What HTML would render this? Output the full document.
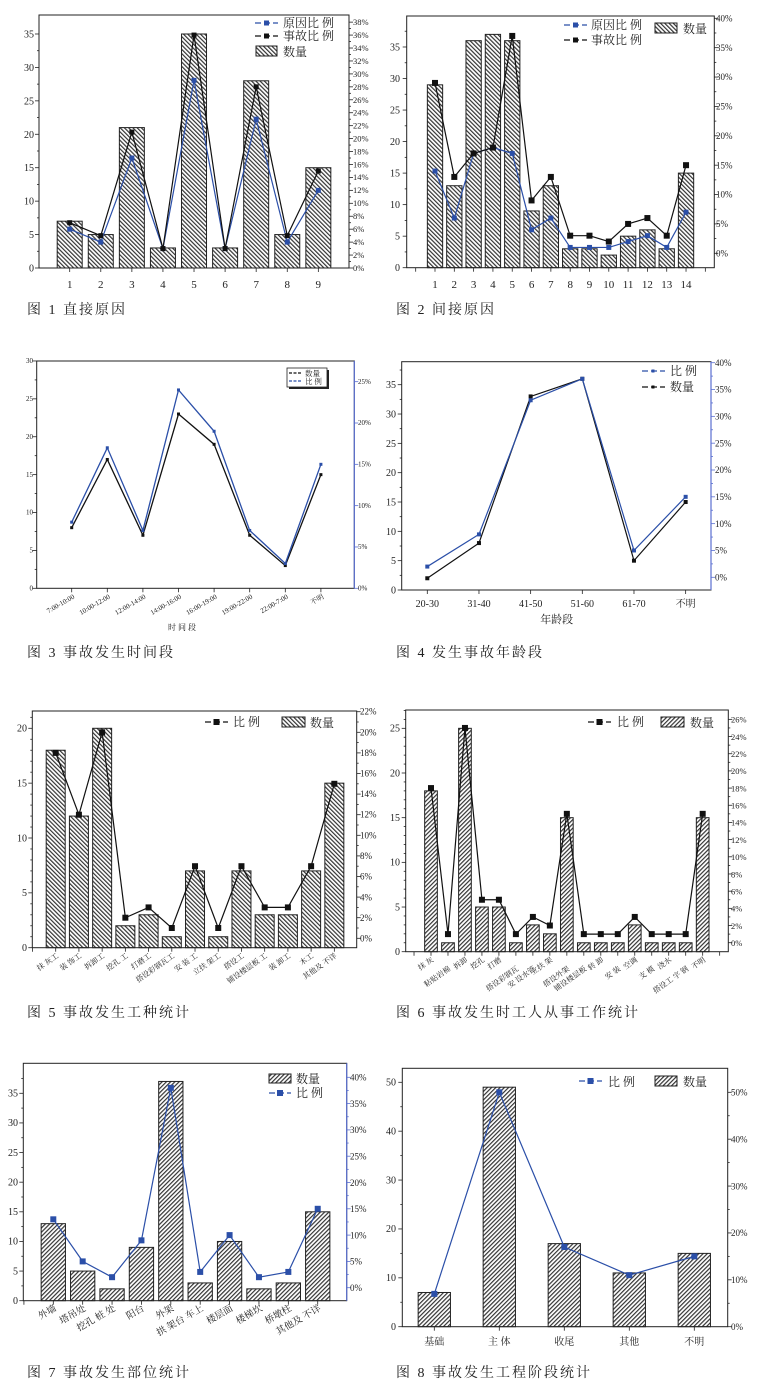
<!DOCTYPE html>
<html><head><meta charset="utf-8"><style>
html,body{margin:0;padding:0;background:#fff}
svg{display:block}
text{font-family:"Liberation Serif","Noto Serif CJK SC",serif;fill:#222}
.c{font-family:"Liberation Serif","Noto Serif CJK SC",serif;font-size:14px;letter-spacing:2px}
.t{font-size:10px}
.s{font-size:7px;fill:#555}
.k{font-size:7.5px}
.lg{font-size:12px}
</style></head><body>
<svg id="s" xmlns="http://www.w3.org/2000/svg" width="759" height="1384" viewBox="0 0 759 1384">
<defs>
<pattern id="hb" width="3" height="6" patternUnits="userSpaceOnUse" patternTransform="rotate(-45)"><rect width="3" height="6" fill="#fff"/><line x1="0.6" y1="0" x2="0.6" y2="6" stroke="#333" stroke-width="1.2"/></pattern>
<pattern id="hf" width="3" height="6" patternUnits="userSpaceOnUse" patternTransform="rotate(45)"><rect width="3" height="6" fill="#fff"/><line x1="0.6" y1="0" x2="0.6" y2="6" stroke="#333" stroke-width="1.2"/></pattern>
</defs>
<g id="g"></g>

<!-- Chart 1 -->
<g class="t" text-anchor="end">
<text x="34" y="271.5">0</text><text x="34" y="238">5</text><text x="34" y="204.6">10</text><text x="34" y="171.2">15</text><text x="34" y="137.8">20</text><text x="34" y="104.4">25</text><text x="34" y="70.9">30</text><text x="34" y="37.5">35</text>
</g>
<g style="font-size:8.5px">
<text x="353" y="271">0%</text><text x="353" y="258">2%</text><text x="353" y="245">4%</text><text x="353" y="232">6%</text><text x="353" y="219">8%</text><text x="353" y="206">10%</text><text x="353" y="193">12%</text><text x="353" y="180">14%</text><text x="353" y="167.5">16%</text><text x="353" y="154.5">18%</text><text x="353" y="141.5">20%</text><text x="353" y="128.7">22%</text><text x="353" y="115.7">24%</text><text x="353" y="102.8">26%</text><text x="353" y="89.8">28%</text><text x="353" y="77">30%</text><text x="353" y="64">32%</text><text x="353" y="51">34%</text><text x="353" y="38">36%</text><text x="353" y="25">38%</text>
</g>
<g style="font-size:11px" text-anchor="middle">
<text x="69.7" y="288">1</text><text x="100.8" y="288">2</text><text x="131.9" y="288">3</text><text x="162.9" y="288">4</text><text x="194" y="288">5</text><text x="225.1" y="288">6</text><text x="256.2" y="288">7</text><text x="287.3" y="288">8</text><text x="318.3" y="288">9</text>
</g>
<line x1="255" y1="23" x2="278" y2="23" stroke="#2b4fa8" stroke-width="1.2" stroke-dasharray="6,3"/><rect x="264" y="20.5" width="5" height="5" fill="#2b4fa8"/>
<text class="lg" x="283" y="27">原因比 例</text>
<line x1="255" y1="36" x2="278" y2="36" stroke="#111" stroke-width="1.2" stroke-dasharray="6,3"/><rect x="264" y="33.5" width="5" height="5" fill="#111"/>
<text class="lg" x="283" y="40">事故比 例</text>
<rect x="256" y="46" width="21" height="10" fill="url(#hb)" stroke="#222"/>
<text class="lg" x="283" y="56">数量</text>
<text class="c" x="27" y="314">图 1 直接原因</text>

<!-- Chart 2 -->
<g class="t" text-anchor="end">
<text x="400" y="271">0</text><text x="400" y="239.7">5</text><text x="400" y="208">10</text><text x="400" y="176.5">15</text><text x="400" y="145">20</text><text x="400" y="113.5">25</text><text x="400" y="82">30</text><text x="400" y="50.5">35</text>
</g>
<g style="font-size:9px">
<text x="716" y="256.5">0%</text><text x="716" y="227">5%</text><text x="716" y="197.7">10%</text><text x="716" y="168.3">15%</text><text x="716" y="139">20%</text><text x="716" y="109.6">25%</text><text x="716" y="80.2">30%</text><text x="716" y="50.8">35%</text><text x="716" y="21.5">40%</text>
</g>
<g style="font-size:11px" text-anchor="middle">
<text x="435" y="288">1</text><text x="454.3" y="288">2</text><text x="473.6" y="288">3</text><text x="492.9" y="288">4</text><text x="512.2" y="288">5</text><text x="531.6" y="288">6</text><text x="550.9" y="288">7</text><text x="570.2" y="288">8</text><text x="589.5" y="288">9</text><text x="608.8" y="288">10</text><text x="628.1" y="288">11</text><text x="647.4" y="288">12</text><text x="666.7" y="288">13</text><text x="686" y="288">14</text>
</g>
<line x1="564" y1="25" x2="587" y2="25" stroke="#2b4fa8" stroke-width="1.2" stroke-dasharray="6,3"/><rect x="573" y="22.5" width="5" height="5" fill="#2b4fa8"/>
<text class="lg" x="591" y="29">原因比 例</text>
<line x1="564" y1="40" x2="587" y2="40" stroke="#111" stroke-width="1.2" stroke-dasharray="6,3"/><rect x="573" y="37.5" width="5" height="5" fill="#111"/>
<text class="lg" x="591" y="44">事故比 例</text>
<rect x="655" y="23" width="22" height="10" fill="url(#hb)" stroke="#222"/>
<text class="lg" x="683" y="33">数量</text>
<text class="c" x="396" y="314">图 2 间接原因</text>

<!-- Chart 3 -->
<g class="s" text-anchor="end">
<text x="33" y="590.5">0</text><text x="33" y="552.6">5</text><text x="33" y="514.7">10</text><text x="33" y="476.8">15</text><text x="33" y="439">20</text><text x="33" y="401">25</text><text x="33" y="363">30</text>
</g>
<g class="s">
<text x="358" y="590.5">0%</text><text x="358" y="549">5%</text><text x="358" y="507.8">10%</text><text x="358" y="466.5">15%</text><text x="358" y="425">20%</text><text x="358" y="384">25%</text>
</g>
<g class="s" text-anchor="end">
<text transform="translate(75,598) rotate(-30)">7:00-10:00</text>
<text transform="translate(110.6,598) rotate(-30)">10:00-12:00</text>
<text transform="translate(146.2,598) rotate(-30)">12:00-14:00</text>
<text transform="translate(181.8,598) rotate(-30)">14:00-16:00</text>
<text transform="translate(217.4,598) rotate(-30)">16:00-19:00</text>
<text transform="translate(253,598) rotate(-30)">19:00-22:00</text>
<text transform="translate(288.6,598) rotate(-30)">22:00-7:00</text>
<text transform="translate(324.3,598) rotate(-30)">不明</text>
</g>
<text x="182" y="630" style="font-size:8px" text-anchor="middle">时 间 段</text>
<rect x="289" y="370" width="40" height="19" fill="#222"/>
<rect x="287" y="368" width="40" height="19" fill="#fff" stroke="#222" stroke-width="0.8"/>
<line x1="289" y1="373" x2="301" y2="373" stroke="#111" stroke-width="1.2" stroke-dasharray="3,1.5"/>
<text x="305" y="376" style="font-size:7.5px">数量</text>
<line x1="289" y1="381" x2="301" y2="381" stroke="#2b4fa8" stroke-width="1.2" stroke-dasharray="3,1.5"/>
<text x="305" y="384" style="font-size:7.5px">比 例</text>
<text class="c" x="27" y="657">图 3 事故发生时间段</text>

<!-- Chart 4 -->
<g class="t" text-anchor="end">
<text x="396" y="593.5">0</text><text x="396" y="564.2">5</text><text x="396" y="534.8">10</text><text x="396" y="505.5">15</text><text x="396" y="476.2">20</text><text x="396" y="446.9">25</text><text x="396" y="417.5">30</text><text x="396" y="388.2">35</text>
</g>
<g style="font-size:9px;fill:#5a6fd0">
<text x="715" y="580.5" fill="#5a6fd0">0%</text><text x="715" y="553.7" fill="#5a6fd0">5%</text><text x="715" y="526.8" fill="#5a6fd0">10%</text><text x="715" y="500" fill="#5a6fd0">15%</text><text x="715" y="473" fill="#5a6fd0">20%</text><text x="715" y="446.3" fill="#5a6fd0">25%</text><text x="715" y="419.6" fill="#5a6fd0">30%</text><text x="715" y="392.7" fill="#5a6fd0">35%</text><text x="715" y="366" fill="#5a6fd0">40%</text>
</g>
<g class="t" text-anchor="middle">
<text x="427.3" y="607">20-30</text><text x="479" y="607">31-40</text><text x="530.7" y="607">41-50</text><text x="582.3" y="607">51-60</text><text x="634" y="607">61-70</text><text x="685.7" y="607">不明</text>
</g>
<text x="556.7" y="623" style="font-size:11px" text-anchor="middle">年龄段</text>
<line x1="642" y1="371" x2="665" y2="371" stroke="#2b4fa8" stroke-width="1.2" stroke-dasharray="6,3"/><rect x="651.5" y="369.5" width="3" height="3" fill="#2b4fa8"/>
<text class="lg" x="670" y="375">比 例</text>
<line x1="642" y1="387" x2="665" y2="387" stroke="#111" stroke-width="1.2" stroke-dasharray="6,3"/><rect x="651.5" y="385.5" width="3" height="3" fill="#111"/>
<text class="lg" x="670" y="391">数量</text>
<text class="c" x="396" y="657">图 4 发生事故年龄段</text>

<!-- Chart 5 -->
<g class="t" text-anchor="end">
<text x="27" y="951">0</text><text x="27" y="896.2">5</text><text x="27" y="841.3">10</text><text x="27" y="786.5">15</text><text x="27" y="731.6">20</text>
</g>
<g style="font-size:9px">
<text x="360" y="941.5">0%</text><text x="360" y="921">2%</text><text x="360" y="900.3">4%</text><text x="360" y="879.7">6%</text><text x="360" y="859">8%</text><text x="360" y="838.5">10%</text><text x="360" y="817.7">12%</text><text x="360" y="797">14%</text><text x="360" y="776.5">16%</text><text x="360" y="756">18%</text><text x="360" y="735.3">20%</text><text x="360" y="714.7">22%</text>
</g>
<g class="k" text-anchor="end">
<text transform="translate(59,957) rotate(-35)">抹 灰工</text>
<text transform="translate(82,957) rotate(-35)">装 饰工</text>
<text transform="translate(105,957) rotate(-35)">拆卸工</text>
<text transform="translate(128.5,957) rotate(-35)">挖孔 工</text>
<text transform="translate(151.6,957) rotate(-35)">打磨工</text>
<text transform="translate(175,957) rotate(-35)">搭设彩钢瓦工</text>
<text transform="translate(198,957) rotate(-35)">安 装 工</text>
<text transform="translate(221.2,957) rotate(-35)">立扶 架工</text>
<text transform="translate(244.5,957) rotate(-35)">搭设工</text>
<text transform="translate(267.7,957) rotate(-35)">铺设楼层板 工</text>
<text transform="translate(291,957) rotate(-35)">装 卸工</text>
<text transform="translate(314,957) rotate(-35)">木工</text>
<text transform="translate(337.3,957) rotate(-35)">其他及 不详</text>
</g>
<line x1="205" y1="722" x2="228" y2="722" stroke="#111" stroke-width="1.2" stroke-dasharray="6,3"/><rect x="213.5" y="719" width="6" height="6" fill="#111"/>
<text class="lg" x="233" y="726">比 例</text>
<rect x="282" y="717" width="23" height="10" fill="url(#hb)" stroke="#222"/>
<text class="lg" x="310" y="727">数量</text>
<text class="c" x="27" y="1017">图 5 事故发生工种统计</text>

<!-- Chart 6 -->
<g class="t" text-anchor="end">
<text x="400" y="955">0</text><text x="400" y="910.3">5</text><text x="400" y="865.7">10</text><text x="400" y="821">15</text><text x="400" y="776.3">20</text><text x="400" y="731.6">25</text>
</g>
<g style="font-size:8.5px">
<text x="731" y="946">0%</text><text x="731" y="928.8">2%</text><text x="731" y="911.6">4%</text><text x="731" y="894.5">6%</text><text x="731" y="877.3">8%</text><text x="731" y="860">10%</text><text x="731" y="843">12%</text><text x="731" y="825.7">14%</text><text x="731" y="808.6">16%</text><text x="731" y="791.4">18%</text><text x="731" y="774.2">20%</text><text x="731" y="757">22%</text><text x="731" y="740">24%</text><text x="731" y="722.6">26%</text>
</g>
<g class="k" text-anchor="end">
<text transform="translate(434,961) rotate(-35)">抹 灰</text>
<text transform="translate(451,970) rotate(-35)">粘贴岩棉</text>
<text transform="translate(468,961) rotate(-35)">拆卸</text>
<text transform="translate(485,961) rotate(-35)">挖孔</text>
<text transform="translate(502,961) rotate(-35)">打磨</text>
<text transform="translate(519,970) rotate(-35)">搭设彩钢瓦</text>
<text transform="translate(536,970) rotate(-35)">安 设水管</text>
<text transform="translate(553,961) rotate(-35)">立扶 架</text>
<text transform="translate(570,970) rotate(-35)">搭设外架</text>
<text transform="translate(587,970) rotate(-35)">铺设楼层板</text>
<text transform="translate(604,961) rotate(-35)">转 卸</text>
<text transform="translate(621,970) rotate(-35)">安 装</text>
<text transform="translate(638,961) rotate(-35)">空调</text>
<text transform="translate(655,970) rotate(-35)">支 模</text>
<text transform="translate(672,961) rotate(-35)">浇水</text>
<text transform="translate(689,970) rotate(-35)">搭设工 字 钢</text>
<text transform="translate(706,961) rotate(-35)">不明</text>
</g>
<line x1="588" y1="722" x2="611" y2="722" stroke="#111" stroke-width="1.2" stroke-dasharray="6,3"/><rect x="596.5" y="719" width="6" height="6" fill="#111"/>
<text class="lg" x="617" y="726">比 例</text>
<rect x="661" y="717" width="23" height="10" fill="url(#hf)" stroke="#222"/>
<text class="lg" x="690" y="727">数量</text>
<text class="c" x="396" y="1017">图 6 事故发生时工人从事工作统计</text>

<!-- Chart 7 -->
<g class="t" text-anchor="end">
<text x="18" y="1304">0</text><text x="18" y="1274.4">5</text><text x="18" y="1244.7">10</text><text x="18" y="1215.1">15</text><text x="18" y="1185.5">20</text><text x="18" y="1155.8">25</text><text x="18" y="1126.2">30</text><text x="18" y="1096.6">35</text>
</g>
<g style="font-size:9px">
<text x="350" y="1291" fill="#5a6fd0">0%</text><text x="350" y="1264.7" fill="#5a6fd0">5%</text><text x="350" y="1238.4" fill="#5a6fd0">10%</text><text x="350" y="1212" fill="#5a6fd0">15%</text><text x="350" y="1185.8" fill="#5a6fd0">20%</text><text x="350" y="1159.5" fill="#5a6fd0">25%</text><text x="350" y="1133.2" fill="#5a6fd0">30%</text><text x="350" y="1106.9" fill="#5a6fd0">35%</text><text x="350" y="1080.6" fill="#5a6fd0">40%</text>
</g>
<g style="font-size:9.5px" text-anchor="end">
<text transform="translate(57,1310) rotate(-30)">外墙</text>
<text transform="translate(86.5,1310) rotate(-30)">塔吊处</text>
<text transform="translate(116,1310) rotate(-30)">挖孔 桩 处</text>
<text transform="translate(145,1310) rotate(-30)">阳台</text>
<text transform="translate(174.5,1310) rotate(-30)">外架</text>
<text transform="translate(204,1310) rotate(-30)">拱 架台 车上</text>
<text transform="translate(233.5,1310) rotate(-30)">楼层面</text>
<text transform="translate(263,1310) rotate(-30)">楼梯坎</text>
<text transform="translate(292,1310) rotate(-30)">桥墩柱</text>
<text transform="translate(321.5,1310) rotate(-30)">其他及 不详</text>
</g>
<rect x="269" y="1074" width="22" height="9" fill="url(#hf)" stroke="#222"/>
<text class="lg" x="296" y="1083">数量</text>
<line x1="269" y1="1093" x2="291" y2="1093" stroke="#2b4fa8" stroke-width="1.2" stroke-dasharray="6,3"/><rect x="277" y="1090" width="6" height="6" fill="#2b4fa8"/>
<text class="lg" x="296" y="1097">比 例</text>
<text class="c" x="27" y="1377">图 7 事故发生部位统计</text>

<!-- Chart 8 -->
<g class="t" text-anchor="end">
<text x="396" y="1330">0</text><text x="396" y="1281">10</text><text x="396" y="1232.2">20</text><text x="396" y="1183.4">30</text><text x="396" y="1134.5">40</text><text x="396" y="1085.6">50</text>
</g>
<g style="font-size:9px">
<text x="731" y="1330">0%</text><text x="731" y="1283">10%</text><text x="731" y="1236">20%</text><text x="731" y="1189.3">30%</text><text x="731" y="1142.4">40%</text><text x="731" y="1095.5">50%</text>
</g>
<g class="t" text-anchor="middle">
<text x="434.3" y="1345">基础</text><text x="499.3" y="1345">主 体</text><text x="564.3" y="1345">收尾</text><text x="629.3" y="1345">其他</text><text x="694.3" y="1345">不明</text>
</g>
<line x1="579" y1="1081" x2="602" y2="1081" stroke="#2b4fa8" stroke-width="1.2" stroke-dasharray="6,3"/><rect x="587.5" y="1078" width="6" height="6" fill="#2b4fa8"/>
<text class="lg" x="608" y="1086">比 例</text>
<rect x="655" y="1076" width="22" height="10" fill="url(#hf)" stroke="#222"/>
<text class="lg" x="683" y="1086">数量</text>
<text class="c" x="396" y="1377">图 8 事故发生工程阶段统计</text>
</svg>
<script>
const NS="http://www.w3.org/2000/svg";const G=document.getElementById('g');
function el(n,a){const e=document.createElementNS(NS,n);for(const k in a)e.setAttribute(k,a[k]);G.appendChild(e);return e;}
const BL="#2b4fa8",BK="#111",AX="#5a6fd0";
function chart(o){
 const ly=v=>o.y0-v*o.k, ry=p=>o.ry0-p*o.rk, x=i=>o.x1+i*o.st;
 if(o.bars)o.bars.forEach((v,i)=>el('rect',{x:x(i)-o.bw/2,y:ly(v),width:o.bw,height:o.y0-ly(v),fill:'url(#'+o.pat+')',stroke:'#222','stroke-width':1}));
 o.lines.forEach(l=>{const f=l.r?ry:ly;el('polyline',{points:l.d.map((v,i)=>x(i)+','+f(v)).join(' '),fill:'none',stroke:l.c,'stroke-width':l.w||1.2});
  l.d.forEach((v,i)=>el('rect',{x:x(i)-l.m/2,y:f(v)-l.m/2,width:l.m,height:l.m,fill:l.c}));});
 el('rect',{x:o.L,y:o.T,width:o.R-o.L,height:o.B-o.T,fill:'none',stroke:'#222','stroke-width':1});
 if(o.rc)el('line',{x1:o.R,y1:o.T,x2:o.R,y2:o.B,stroke:o.rc,'stroke-width':1.2});
 for(let v=0;v<=o.lmax+1e-9;v+=o.lmi){const y=ly(v);if(y<o.T-0.5)break;const mj=Math.abs(v/o.lst-Math.round(v/o.lst))<1e-6;el('line',{x1:o.L,y1:y,x2:o.L-(mj?4:2),y2:y,stroke:'#222','stroke-width':0.8});}
 for(let p=0;p<=o.rmax+1e-9;p+=o.rmi){const y=ry(p);if(y<o.T-0.5)break;const mj=Math.abs(p/o.rst-Math.round(p/o.rst))<1e-6;el('line',{x1:o.R,y1:y,x2:o.R+(mj?4:2),y2:y,stroke:o.rc||'#222','stroke-width':0.8});}
 for(let i=(o.xa||0);i<o.n+(o.xb||0);i++){const xx=x(i);if(xx<o.L||xx>o.R)continue;el('line',{x1:xx,y1:o.B,x2:xx,y2:o.B+4,stroke:'#222','stroke-width':0.8});}
}
chart({L:39,R:349,T:15,B:268,y0:268,k:6.686,ry0:268,rk:6.47,x1:69.7,st:31.08,bw:25,n:9,pat:'hb',
 bars:[7,5,21,3,35,3,28,5,15],lmax:37,lmi:2.5,lst:5,rmax:38,rmi:1,rst:2,
 lines:[{d:[6,4,17,3,29,3,23,4,12],c:BL,r:1,m:5},{d:[7,5,21,3,36,3,28,5,15],c:BK,r:1,m:5}]});
chart({L:406.7,R:714.3,T:16,B:267.7,y0:267.7,k:6.306,ry0:253.3,rk:5.875,x1:435,st:19.31,bw:15.3,n:14,xa:-1,xb:1,pat:'hb',
 bars:[29,13,36,37,36,9,13,3,3,2,5,6,3,15],lmax:39,lmi:2.5,lst:5,rmax:40,rmi:2.5,rst:5,
 lines:[{d:[14,6,17,18,17,4,6,1,1,1,2,3,1,7],c:BL,r:1,m:5},{d:[29,13,17,18,37,9,13,3,3,2,5,6,3,15],c:BK,r:1,m:6}]});
chart({L:36.7,R:354.3,T:361,B:588.3,y0:588.3,k:7.578,ry0:588.3,rk:8.265,x1:71.7,st:35.6,bw:0,n:8,xa:0,xb:1,rc:AX,
 lmax:30,lmi:2.5,lst:5,rmax:25,rmi:5,rst:5,
 lines:[{d:[8,17,7,23,19,7,3,15],c:BK,m:3,w:1.3},{d:[8,17,7,24,19,7,3,15],c:BL,r:1,m:3,w:1.3}]});
chart({L:401.7,R:711,T:361.7,B:590,y0:590,k:5.866,ry0:577.3,rk:5.365,x1:427.3,st:51.67,bw:0,n:6,rc:AX,
 lmax:38,lmi:2.5,lst:5,rmax:40,rmi:2.5,rst:5,
 lines:[{d:[2,8,33,36,5,15],c:BK,m:4},{d:[2,8,33,37,5,15],c:BL,r:1,m:4}]});
chart({L:32.3,R:356.7,T:711,B:947.7,y0:947.7,k:10.97,ry0:938.3,rk:10.3,x1:55.7,st:23.22,bw:19,n:13,xa:-1,xb:1,pat:'hb',
 bars:[18,12,20,2,3,1,7,1,7,3,3,7,15],lmax:21,lmi:1,lst:5,rmax:22,rmi:1,rst:2,
 lines:[{d:[18,12,20,2,3,1,7,1,7,3,3,7,15],c:BK,r:1,m:6}]});
chart({L:405.7,R:728.3,T:710,B:951.7,y0:951.7,k:8.935,ry0:942.7,rk:8.59,x1:431,st:16.98,bw:12.7,n:17,xa:-1,xb:1,pat:'hf',
 bars:[18,1,25,5,5,1,3,2,15,1,1,1,3,1,1,1,15],lmax:27,lmi:1,lst:5,rmax:26,rmi:1,rst:2,
 lines:[{d:[18,1,25,5,5,1,3,2,15,1,1,1,3,1,1,1,15],c:BK,r:1,m:6}]});
chart({L:23.3,R:346.7,T:1063.3,B:1300.7,y0:1300.7,k:5.926,ry0:1287.7,rk:5.26,x1:53.3,st:29.38,bw:24.3,n:10,xa:-1,xb:1,pat:'hf',rc:AX,
 bars:[13,5,2,9,37,3,10,2,3,15],lmax:39,lmi:2.5,lst:5,rmax:42,rmi:2.5,rst:5,
 lines:[{d:[13,5,2,9,38,3,10,2,3,15],c:BL,r:1,m:6}]});
chart({L:402.3,R:727.7,T:1068.3,B:1326.7,y0:1326.7,k:4.888,ry0:1326.7,rk:4.688,x1:434.3,st:65,bw:32.3,n:5,pat:'hf',
 bars:[7,49,17,11,15],lmax:52,lmi:5,lst:10,rmax:54,rmi:5,rst:10,
 lines:[{d:[7,50,17,11,15],c:BL,r:1,m:6}]});
</script>
</body></html>
